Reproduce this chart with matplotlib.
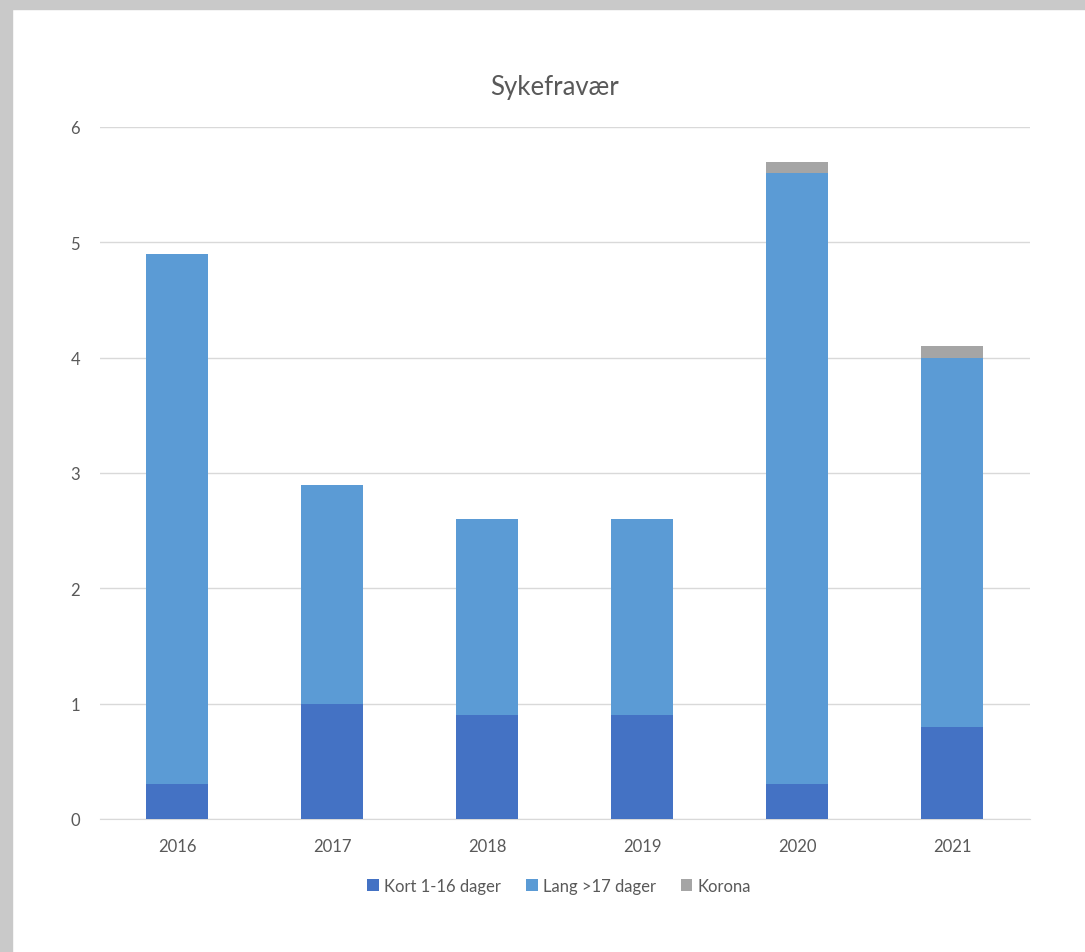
import matplotlib.pyplot as plt
from matplotlib.patches import Rectangle
import numpy as np

years = ['2016', '2017', '2018', '2019', '2020', '2021']
kort = [0.3, 1.0, 0.9, 0.9, 0.3, 0.8]
lang = [4.6, 1.9, 1.7, 1.7, 5.3, 3.2]
korona = [0.0, 0.0, 0.0, 0.0, 0.1, 0.1]

plt.rcParams['font.family'] = ['Lato', 'DejaVu Sans']
txt = '#595959'

fig = plt.figure(figsize=(10.85, 9.53), dpi=100)
# grey frame around the chart area
fig.patches.append(Rectangle((0, 1 - 10 / 953), 1, 10 / 953, transform=fig.transFigure,
                             color='#C9C9C9', zorder=0))
fig.patches.append(Rectangle((0, 0), 12 / 1085, 1, transform=fig.transFigure,
                             color='#C9C9C9', zorder=0))

ax = fig.add_axes([99.5 / 1085, 1 - 820 / 953, 930 / 1085, 692 / 953])
x = np.arange(len(years))
w = 0.4
bottom2 = np.array(kort) + np.array(lang)
ax.bar(x, kort, w, color='#4472C4', label='Kort 1-16 dager', zorder=3)
ax.bar(x, lang, w, bottom=kort, color='#5B9BD5', label='Lang >17 dager', zorder=3)
ax.bar(x, korona, w, bottom=bottom2, color='#A5A5A5', label='Korona', zorder=3)

ax.set_xlim(-0.5, len(years) - 0.5)
ax.set_ylim(0, 6)
ax.set_yticks(range(7))
ax.set_xticks(x)
ax.set_xticklabels(years)
ax.grid(axis='y', color='#D9D9D9', linewidth=1, zorder=0)
for s in ['top', 'right', 'left']:
    ax.spines[s].set_visible(False)
ax.spines['bottom'].set_color('#D9D9D9')
ax.tick_params(length=0, labelsize=12, colors=txt)
ax.tick_params(axis='x', pad=14)
ax.tick_params(axis='y', pad=14)

fig.text(555 / 1085, 1 - 87 / 953, 'Sykefravær', ha='center', va='center',
         fontsize=18.5, color=txt)

leg = fig.legend(loc='center', bbox_to_anchor=(559 / 1085, 1 - 887 / 953), ncol=3,
                 frameon=False, fontsize=12, handlelength=0.7, handleheight=0.7,
                 handletextpad=0.3, columnspacing=1.5)
for t in leg.get_texts():
    t.set_color(txt)

fig.savefig('out.png', dpi=100)
